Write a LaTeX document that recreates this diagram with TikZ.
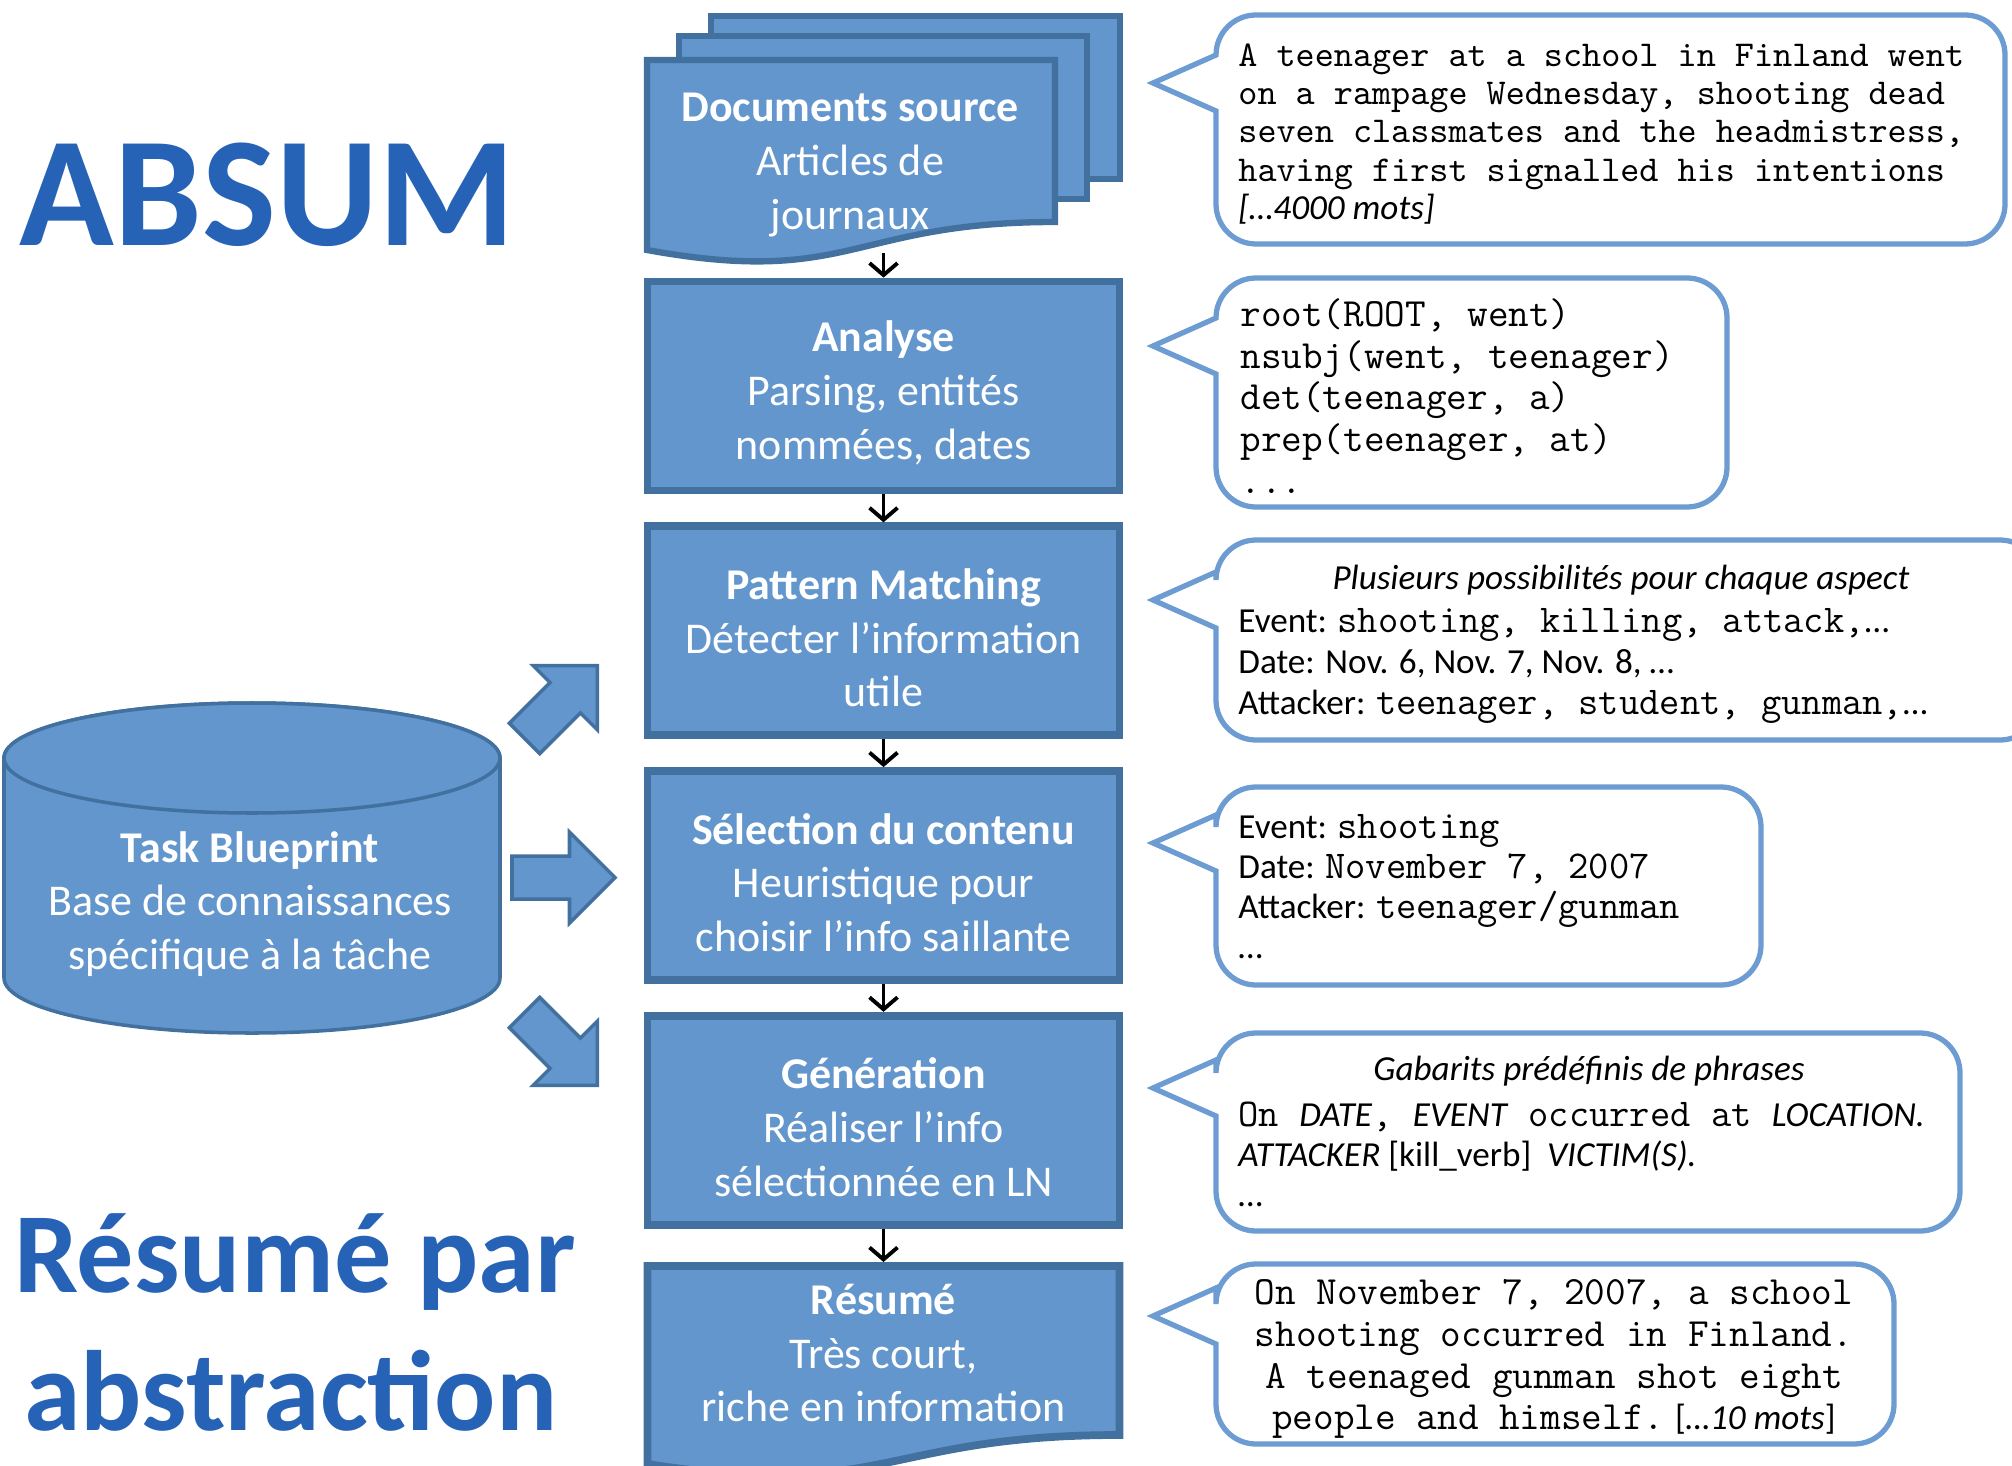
\documentclass[tikz,border=0pt]{standalone}
\usepackage{fontspec}
\setmainfont{Carlito}
\usetikzlibrary{positioning,arrows.meta}

\definecolor{boxfill}{RGB}{98,150,204}
\definecolor{boxline}{RGB}{66,113,160}
\definecolor{bubbleline}{RGB}{108,156,210}
\definecolor{titleblue}{RGB}{38,98,182}

\newcommand\boxfont{\fontsize{12.5}{15.3}\selectfont}
\newcommand\mono{\fontsize{11.2}{11.8}\selectfont\ttfamily}
\newcommand\steptitle[1]{\rule{0pt}{12.8pt}\textbf{#1}}

\newcommand\DrawBubble[4]{% top, bottom, right, pointer
  \draw[bubble] (12.16,#4+0.28) -- (11.53,#4) -- (12.16,#4-0.28)
    -- (12.16,#2+0.4) arc[start angle=180,end angle=270,radius=0.4]
    -- (#3-0.4,#2) arc[start angle=270,end angle=360,radius=0.4]
    -- (#3,#1-0.4) arc[start angle=0,end angle=90,radius=0.4]
    -- (12.56,#1) arc[start angle=90,end angle=180,radius=0.4] -- cycle;
}
\newcommand\FatArrow[2]{% centre, angle
  \filldraw[fatarrow,shift={(#1)},rotate=#2] (-0.515,-0.215) -- (0.06,-0.215)
    -- (0.06,-0.455) -- (0.515,0) -- (0.06,0.455) -- (0.06,0.215)
    -- (-0.515,0.215) -- cycle;
}

\tikzset{%
  >={Straight Barb[length=1.2mm,width=2.8mm]},
  stepbox/.style={draw=boxline,line width=2.2pt,fill=boxfill,
    minimum width=4.72cm,minimum height=2.09cm,text=white,align=center,
    font=\boxfont},
  steptext/.style={text=white,align=center,font=\boxfont},
  docpage/.style={draw=boxline,line width=1.8pt,fill=boxfill},
  fatarrow/.style={draw=boxline,line width=1pt,fill=boxfill},
  bubble/.style={draw=bubbleline,line width=1.5pt,fill=white},
  flowarrow/.style={->,line width=1.1pt,black},
  bigtitle/.style={text=titleblue,inner sep=0pt}
}

\begin{document}
\begin{tikzpicture}
  \useasboundingbox (0,0) rectangle (20.12,14.65);

  %% titles
  \node[bigtitle,font=\fontsize{44.5}{50}\selectfont\bfseries,anchor=base west]
    (absum) at (0.19,12.19) {ABSUM};
  \node[bigtitle,font=\fontsize{32.5}{38}\selectfont\bfseries,anchor=base]
    (titleA) at (2.95,1.73) {Résumé par};
  \node[bigtitle,font=\fontsize{32.5}{38}\selectfont\bfseries,anchor=base]
    (titleB) at (2.91,0.35) {abstraction};

  %% source documents
  \filldraw[docpage] (7.11,14.49) rectangle (11.20,12.86);
  \filldraw[docpage] (6.79,14.29) rectangle (10.87,12.66);
  \filldraw[docpage] (6.47,14.05) -- (10.55,14.05) -- (10.55,12.43)
    .. controls (8.51,12.43) and (8.51,11.78) .. (6.47,12.15) -- cycle;
  \node[steptext] (docs) at (8.50,13.00)
    {\textbf{Documents source}\\Articles de\\journaux};
  \coordinate (docsout) at (8.835,12.12);

  %% pipeline
  \node[stepbox] (analyse) at (8.835,10.79)
    {\steptitle{Analyse}\\Parsing, entités\\nommées, dates};
  \node[stepbox,below=0.28cm of analyse] (pattern)
    {\steptitle{Pattern Matching}\\Détecter l’information\\utile};
  \node[stepbox,below=0.28cm of pattern] (selection)
    {\steptitle{Sélection du contenu}\\Heuristique pour\\choisir l’info saillante};
  \node[stepbox,below=0.28cm of selection] (generation)
    {\steptitle{Génération}\\Réaliser l’info\\sélectionnée en LN};
  \filldraw[docpage,line width=2.2pt] (6.475,1.99) -- (11.195,1.99) -- (11.195,0.30)
    .. controls (8.835,0.30) and (8.835,-0.36) .. (6.475,0.01) -- cycle;
  \node[steptext] (resume) at (8.835,1.12)
    {\textbf{Résumé}\\Très court,\\riche en information};
  \coordinate (resumetop) at (8.835,2.03);

  \draw[flowarrow] (docsout) -- (analyse);
  \draw[flowarrow] (analyse) -- (pattern);
  \draw[flowarrow] (pattern) -- (selection);
  \draw[flowarrow] (selection) -- (generation);
  \draw[flowarrow] (generation) -- (resumetop);

  %% knowledge base
  \filldraw[fatarrow] (0.04,7.07) -- (0.04,4.87)
    arc[start angle=180,end angle=360,x radius=2.48,y radius=0.55]
    -- (5.00,7.07) arc[start angle=0,end angle=180,x radius=2.48,y radius=0.55]
    -- cycle;
  \filldraw[fatarrow] (2.52,7.07) ellipse[x radius=2.48,y radius=0.55];
  \node[steptext] (blueprint) at (2.50,5.61)
    {\textbf{Task Blueprint}\\Base de connaissances\\spécifique à la tâche};
  \FatArrow{5.61,7.63}{45}
  \FatArrow{5.635,5.875}{0}
  \FatArrow{5.61,4.16}{-45}

  %% callouts
  \DrawBubble{14.50}{12.21}{20.05}{13.82}
  \DrawBubble{11.87}{9.58}{17.27}{11.19}
  \DrawBubble{9.25}{7.25}{20.40}{8.65}
  \DrawBubble{6.78}{4.80}{17.61}{6.22}
  \DrawBubble{4.32}{2.34}{19.60}{3.77}
  \DrawBubble{2.01}{0.21}{18.94}{1.49}

  \node[anchor=west,align=left,font=\fontsize{10.35}{10.9}\selectfont\ttfamily]
    (srctext) at (12.26,13.31)
    {A teenager at a school in Finland went\\on a rampage Wednesday, shooting dead\\%
     seven classmates and the headmistress,\\having first signalled his intentions\\%
     {\rmfamily\itshape\fontsize{10}{10.9}\selectfont […4000 mots]}};
  \node[anchor=west,align=left,font=\fontsize{11.4}{11.9}\selectfont\ttfamily]
    (parsetext) at (12.28,10.69)
    {root(ROOT, went)\\nsubj(went, teenager)\\det(teenager, a)\\prep(teenager, at)\\...};
  \node[font=\fontsize{10}{11.8}\selectfont\itshape] (aspecttitle) at (16.21,8.85)
    {Plusieurs possibilités pour chaque aspect};
  \node[anchor=west,align=left,font=\fontsize{10}{11.8}\selectfont]
    (aspecttext) at (12.26,7.99)
    {Event: {\mono shooting, killing, attack,}…\\Date: Nov. 6, Nov. 7, Nov. 8, …\\%
     Attacker: {\mono teenager, student, gunman,}…};
  \node[anchor=west,align=left,font=\fontsize{10}{11.4}\selectfont]
    (contenttext) at (12.26,5.78)
    {Event: {\mono shooting}\\Date: {\mono November 7, 2007}\\%
     Attacker: {\mono teenager/gunman}\\…};
  \node[font=\fontsize{10}{11.4}\selectfont\itshape] (templatetitle) at (15.89,3.94)
    {Gabarits prédéfinis de phrases};
  \node[anchor=west,align=left,font=\fontsize{10}{11.4}\selectfont]
    (templatetext) at (12.26,3.11)
    {{\mono On }\textit{DATE}{\mono,~}\textit{EVENT}{\mono~occurred at~}\textit{LOCATION.}\\%
     \textit{ATTACKER} [kill\_verb]~~\textit{VICTIM(S).}\\…};
  \node[align=center,font=\fontsize{11.4}{11.9}\selectfont\ttfamily]
    (summarytext) at (15.54,1.06)
    {On November 7, 2007, a school\\shooting occurred in Finland.\\%
     A teenaged gunman shot eight\\%
     people and himself.{\rmfamily\fontsize{10}{11.9}\selectfont{} [\textit{…10 mots}]}};
\end{tikzpicture}
\end{document}
